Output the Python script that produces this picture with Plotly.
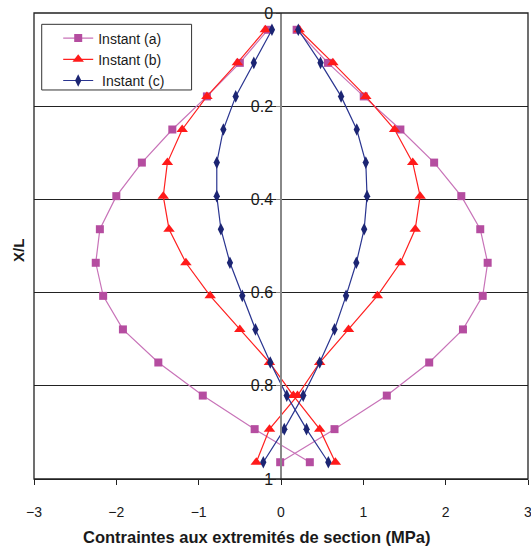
import plotly.graph_objects as go

# Relative position along the beam (X/L)
xl = [0.036, 0.107, 0.179, 0.250, 0.321, 0.393, 0.464, 0.536, 0.607, 0.679, 0.750, 0.821, 0.893, 0.964]

# Stresses at the two section extremities (MPa)
a_fibre1 = [-0.16, -0.50, -0.90, -1.32, -1.69, -2.00, -2.20, -2.25, -2.16, -1.92, -1.49, -0.95, -0.32, 0.35]
a_fibre2 = [0.19, 0.57, 1.005, 1.45, 1.86, 2.19, 2.42, 2.51, 2.45, 2.21, 1.80, 1.285, 0.65, -0.01]
b_fibre1 = [-0.19, -0.53, -0.90, -1.20, -1.38, -1.43, -1.36, -1.155, -0.86, -0.50, -0.14, 0.15, 0.47, 0.66]
b_fibre2 = [0.22, 0.63, 1.03, 1.38, 1.60, 1.69, 1.63, 1.45, 1.17, 0.82, 0.47, 0.20, -0.14, -0.30]
c_fibre1 = [-0.11, -0.33, -0.55, -0.70, -0.78, -0.78, -0.73, -0.62, -0.47, -0.31, -0.13, 0.07, 0.31, 0.575]
c_fibre2 = [0.21, 0.48, 0.73, 0.92, 1.03, 1.045, 1.01, 0.915, 0.79, 0.65, 0.47, 0.27, 0.04, -0.215]

names = ["Instant (a)", "Instant (b)", "\u00a0Instant (c)"]
ytick_vals = [0, 0.2, 0.4, 0.6, 0.8, 1]
ytick_text = ["0", "0.2", "0.4", "0.6", "0.8", "1"]

FONT = "Liberation Sans, Arial, sans-serif"

styles = [
    dict(line=dict(color="#C873B8", width=1.2),
         marker=dict(symbol="square", size=8, color="#B54DA0")),
    dict(line=dict(color="#FF2020", width=1.2),
         marker=dict(symbol="triangle-up", size=10, color="#FF1A1A")),
    dict(line=dict(color="#2A3590", width=1.2),
         marker=dict(symbol="diamond-tall", size=9, color="#1C2573")),
]

series = [(a_fibre1, a_fibre2), (b_fibre1, b_fibre2), (c_fibre1, c_fibre2)]

fig = go.Figure()
for k, (f1, f2) in enumerate(series):
    for j, vals in enumerate((f1, f2)):
        fig.add_trace(go.Scatter(
            x=vals, y=xl, mode="lines+markers", name=names[k],
            legendgroup=names[k], showlegend=(j == 0),
            line=styles[k]["line"], marker=styles[k]["marker"],
        ))

fig.update_layout(
    width=531, height=552,
    margin=dict(l=34, r=3, t=13, b=73, autoexpand=False),
    paper_bgcolor="white", plot_bgcolor="white",
    font=dict(family=FONT, color="#1a1a1a"),
    showlegend=True,
    legend=dict(x=0.049, y=0.9796, xanchor="left", yanchor="top",
                bgcolor="rgba(0,0,0,0)", borderwidth=0,
                font=dict(size=14, family=FONT), tracegroupgap=0),
    xaxis=dict(range=[-3, 3], dtick=1, tick0=-3, ticks="outside", ticklen=5,
               tickcolor="#222", showline=True, linecolor="#222", linewidth=1.2,
               showgrid=False, zeroline=False, automargin=False,
               tickfont=dict(size=14, family=FONT),
               ticklabelstandoff=15, ticklabeloverflow="allow"),
    yaxis=dict(range=[1, 0], tickvals=ytick_vals, ticktext=ytick_text,
               anchor="free", position=0.5, ticks="outside", ticklen=4,
               tickcolor="#888", showline=True, linecolor="#888", linewidth=1.5,
               showgrid=True, gridcolor="#222", gridwidth=1, zeroline=False,
               automargin=False,
               tickfont=dict(size=16, family=FONT), ticklabeloverflow="allow"),
    annotations=[
        dict(text="<b>X/L</b>", xref="paper", yref="paper",
             x=-0.033, y=0.491, xanchor="center", yanchor="middle",
             showarrow=False, textangle=-90,
             font=dict(size=15, family=FONT, color="#1a1a1a")),
        dict(text="<b>Contraintes aux extremités de section (MPa)</b>",
             xref="paper", yref="paper", x=0.451, y=-0.1245,
             xanchor="center", yanchor="middle", showarrow=False,
             font=dict(size=16.5, family=FONT, color="#1a1a1a")),
    ],
    shapes=[
        dict(type="rect", xref="paper", yref="paper", x0=0, x1=1, y0=0, y1=1,
             line=dict(color="#222", width=1.3), layer="above"),
        dict(type="rect", xref="paper", yref="paper",
             x0=0.0156, x1=0.319, y0=0.8348, y1=0.9757,
             line=dict(color="#333", width=1), fillcolor="white", layer="below"),
    ],
)

fig.write_html("out.html")
